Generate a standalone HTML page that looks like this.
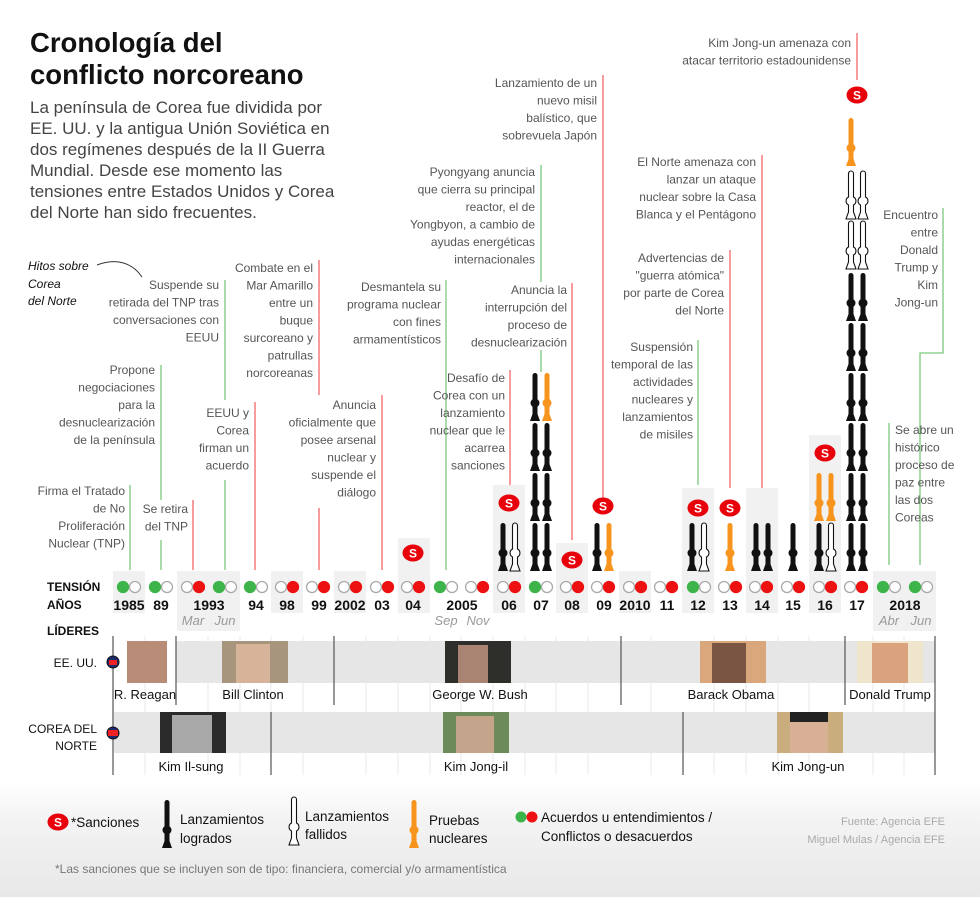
<!DOCTYPE html>
<html><head><meta charset="utf-8"><style>
html,body{margin:0;padding:0;background:#fff}
svg{display:block;font-family:"Liberation Sans",Arial,sans-serif}
.a{font-size:12px;fill:#555;text-anchor:end}
.y{font-size:14px;font-weight:bold;fill:#111;text-anchor:middle}
.m{font-size:13px;font-style:italic;fill:#999;text-anchor:middle}
.n{font-size:13px;fill:#111;text-anchor:middle}
.lg{font-size:13.5px;fill:#111}
.gl{stroke:#7cc97c;stroke-width:1.3;fill:none}
.rl{stroke:#f06767;stroke-width:1.3;fill:none}
</style></head><body>
<svg width="980" height="897" viewBox="0 0 980 897" xmlns="http://www.w3.org/2000/svg">
<defs>
<linearGradient id="bg" x1="0" y1="0" x2="0" y2="1"><stop offset="0" stop-color="#fff"/><stop offset="0.35" stop-color="#f3f3f3"/><stop offset="1" stop-color="#e8e8e8"/></linearGradient>
<g id="mb"><rect x="-2.5" y="0" width="5" height="44" rx="2.5"/><circle cx="0" cy="30" r="4.5"/><path d="M-5,48 L5,48 L2.5,41 L-2.5,41 Z"/></g>
<g id="mk" fill="#111"><use href="#mb"/></g>
<g id="mo" fill="#f7941d"><use href="#mb"/></g>
<g id="mw"><path d="M-2.5,26 L-2.5,2.5 A2.5,2.5 0 0 1 2.5,2.5 L2.5,26 A4.5,4.5 0 0 1 2.5,34 L2.5,41 L5,48 L-5,48 L-2.5,41 L-2.5,34 A4.5,4.5 0 0 1 -2.5,26 Z" fill="#fff" stroke="#111" stroke-width="1.1"/></g>
<g id="ss"><ellipse cx="0" cy="0" rx="10.5" ry="8.5" fill="#e8000b"/><text x="0" y="4.5" text-anchor="middle" font-size="12" font-weight="bold" fill="#fff">S</text></g>
</defs>
<rect x="0" y="780" width="980" height="117" fill="url(#bg)"/>

<text x="30" y="52" font-size="27.5" font-weight="bold" fill="#111">Cronología del</text>
<text x="30" y="84" font-size="27.5" font-weight="bold" fill="#111">conflicto norcoreano</text>
<g font-size="17" fill="#444">
<text x="30" y="113">La península de Corea fue dividida por</text>
<text x="30" y="134">EE. UU. y la antigua Unión Soviética en</text>
<text x="30" y="155">dos regímenes después de la II Guerra</text>
<text x="30" y="176">Mundial. Desde ese momento las</text>
<text x="30" y="197">tensiones entre Estados Unidos y Corea</text>
<text x="30" y="218">del Norte han sido frecuentes.</text>
</g>
<g font-size="12" font-style="italic" fill="#111">
<text x="28" y="270">Hitos sobre</text><text x="28" y="288">Corea</text><text x="28" y="305">del Norte</text>
</g>
<path d="M97,265 C115,258 132,262 142,277" stroke="#333" fill="none" stroke-width="1"/>

<g fill="#f1f1f1">
<rect x="113" y="571" width="32" height="42"/>
<rect x="177" y="571" width="63" height="60"/>
<rect x="271" y="571" width="32" height="42"/>
<rect x="334" y="571" width="32" height="42"/>
<rect x="398" y="538" width="32" height="75"/>
<rect x="493" y="485" width="32" height="128"/>
<rect x="556" y="543" width="32" height="70"/>
<rect x="619" y="571" width="32" height="42"/>
<rect x="682" y="488" width="32" height="125"/>
<rect x="746" y="488" width="32" height="125"/>
<rect x="809" y="435" width="32" height="178"/>
<rect x="873" y="571" width="63" height="60"/>
</g>

<path class="gl" d="M130,485V570"/>
<path class="rl" d="M193,500V570"/>
<path class="gl" d="M161,365V500M161,540V570"/>
<path class="gl" d="M225,280V400M225,480V570"/>
<path class="rl" d="M255,402V570"/>
<path class="rl" d="M319,260V395M319,508V570"/>
<path class="rl" d="M382,395V570"/>
<path class="gl" d="M446,280V570"/>
<path class="rl" d="M510,370V485"/>
<path class="gl" d="M541,165V282M541,350V372"/>
<path class="rl" d="M572,283V540"/>
<path class="rl" d="M603,75V500"/>
<path class="gl" d="M698,340V485"/>
<path class="rl" d="M730,250V488"/>
<path class="rl" d="M762,155V488"/>
<path class="rl" d="M857,33V80"/>
<path class="gl" d="M943,208V353H920V565"/>
<path class="gl" d="M889,423V565"/>

<text class="a" x="125" y="495"><tspan x="125">Firma el Tratado</tspan><tspan x="125" dy="17.5">de No</tspan><tspan x="125" dy="17.5">Proliferación</tspan><tspan x="125" dy="17.5">Nuclear (TNP)</tspan></text>
<text class="a" x="188" y="513"><tspan x="188">Se retira</tspan><tspan x="188" dy="17.5">del TNP</tspan></text>
<text class="a" x="155" y="374"><tspan x="155">Propone</tspan><tspan x="155" dy="17.5">negociaciones</tspan><tspan x="155" dy="17.5">para la</tspan><tspan x="155" dy="17.5">desnuclearización</tspan><tspan x="155" dy="17.5">de la península</tspan></text>
<text class="a" x="219" y="289"><tspan x="219">Suspende su</tspan><tspan x="219" dy="17.5">retirada del TNP tras</tspan><tspan x="219" dy="17.5">conversaciones con</tspan><tspan x="219" dy="17.5">EEUU</tspan></text>
<text class="a" x="249" y="417"><tspan x="249">EEUU y</tspan><tspan x="249" dy="17.5">Corea</tspan><tspan x="249" dy="17.5">firman un</tspan><tspan x="249" dy="17.5">acuerdo</tspan></text>
<text class="a" x="313" y="272"><tspan x="313">Combate en el</tspan><tspan x="313" dy="17.5">Mar Amarillo</tspan><tspan x="313" dy="17.5">entre un</tspan><tspan x="313" dy="17.5">buque</tspan><tspan x="313" dy="17.5">surcoreano y</tspan><tspan x="313" dy="17.5">patrullas</tspan><tspan x="313" dy="17.5">norcoreanas</tspan></text>
<text class="a" x="376" y="409"><tspan x="376">Anuncia</tspan><tspan x="376" dy="17.5">oficialmente que</tspan><tspan x="376" dy="17.5">posee arsenal</tspan><tspan x="376" dy="17.5">nuclear y</tspan><tspan x="376" dy="17.5">suspende el</tspan><tspan x="376" dy="17.5">diálogo</tspan></text>
<text class="a" x="441" y="291"><tspan x="441">Desmantela su</tspan><tspan x="441" dy="17.5">programa nuclear</tspan><tspan x="441" dy="17.5">con fines</tspan><tspan x="441" dy="17.5">armamentísticos</tspan></text>
<text class="a" x="505" y="382"><tspan x="505">Desafío de</tspan><tspan x="505" dy="17.5">Corea con un</tspan><tspan x="505" dy="17.5">lanzamiento</tspan><tspan x="505" dy="17.5">nuclear que le</tspan><tspan x="505" dy="17.5">acarrea</tspan><tspan x="505" dy="17.5">sanciones</tspan></text>
<text class="a" x="535" y="176"><tspan x="535">Pyongyang anuncia</tspan><tspan x="535" dy="17.5">que cierra su principal</tspan><tspan x="535" dy="17.5">reactor, el de</tspan><tspan x="535" dy="17.5">Yongbyon, a cambio de</tspan><tspan x="535" dy="17.5">ayudas energéticas</tspan><tspan x="535" dy="17.5">internacionales</tspan></text>
<text class="a" x="567" y="294"><tspan x="567">Anuncia la</tspan><tspan x="567" dy="17.5">interrupción del</tspan><tspan x="567" dy="17.5">proceso de</tspan><tspan x="567" dy="17.5">desnuclearización</tspan></text>
<text class="a" x="597" y="87"><tspan x="597">Lanzamiento de un</tspan><tspan x="597" dy="17.5">nuevo misil</tspan><tspan x="597" dy="17.5">balístico, que</tspan><tspan x="597" dy="17.5">sobrevuela Japón</tspan></text>
<text class="a" x="693" y="351"><tspan x="693">Suspensión</tspan><tspan x="693" dy="17.5">temporal de las</tspan><tspan x="693" dy="17.5">actividades</tspan><tspan x="693" dy="17.5">nucleares y</tspan><tspan x="693" dy="17.5">lanzamientos</tspan><tspan x="693" dy="17.5">de misiles</tspan></text>
<text class="a" x="724" y="262"><tspan x="724">Advertencias de</tspan><tspan x="724" dy="17.5">"guerra atómica"</tspan><tspan x="724" dy="17.5">por parte de Corea</tspan><tspan x="724" dy="17.5">del Norte</tspan></text>
<text class="a" x="756" y="166"><tspan x="756">El Norte amenaza con</tspan><tspan x="756" dy="17.5">lanzar un ataque</tspan><tspan x="756" dy="17.5">nuclear sobre la Casa</tspan><tspan x="756" dy="17.5">Blanca y el Pentágono</tspan></text>
<text class="a" x="851" y="47"><tspan x="851">Kim Jong-un amenaza con</tspan><tspan x="851" dy="17.5">atacar territorio estadounidense</tspan></text>
<text class="a" x="938" y="219"><tspan x="938">Encuentro</tspan><tspan x="938" dy="17.5">entre</tspan><tspan x="938" dy="17.5">Donald</tspan><tspan x="938" dy="17.5">Trump y</tspan><tspan x="938" dy="17.5">Kim</tspan><tspan x="938" dy="17.5">Jong-un</tspan></text>
<text class="a" x="895" y="434" style="text-anchor:start"><tspan x="895">Se abre un</tspan><tspan x="895" dy="17.5">histórico</tspan><tspan x="895" dy="17.5">proceso de</tspan><tspan x="895" dy="17.5">paz entre</tspan><tspan x="895" dy="17.5">las dos</tspan><tspan x="895" dy="17.5">Coreas</tspan></text>

<use href="#ss" x="413" y="553"/>
<use href="#ss" x="509" y="503"/>
<use href="#ss" x="572" y="560"/>
<use href="#ss" x="603" y="506"/>
<use href="#ss" x="698" y="508"/>
<use href="#ss" x="730" y="508"/>
<use href="#ss" x="825" y="453"/>
<use href="#ss" x="857" y="95"/>

<use href="#mk" x="503" y="523"/><use href="#mw" x="515" y="523"/>
<use href="#mk" x="535" y="523"/><use href="#mk" x="547" y="523"/>
<use href="#mk" x="535" y="473"/><use href="#mk" x="547" y="473"/>
<use href="#mk" x="535" y="423"/><use href="#mk" x="547" y="423"/>
<use href="#mk" x="535" y="373"/><use href="#mo" x="547" y="373"/>
<use href="#mk" x="597" y="523"/><use href="#mo" x="609" y="523"/>
<use href="#mk" x="692" y="523"/><use href="#mw" x="704" y="523"/>
<use href="#mo" x="730" y="523"/>
<use href="#mk" x="756" y="523"/><use href="#mk" x="768" y="523"/>
<use href="#mk" x="793" y="523"/>
<use href="#mk" x="819" y="523"/><use href="#mw" x="831" y="523"/>
<use href="#mo" x="819" y="473"/><use href="#mo" x="831" y="473"/>
<use href="#mk" x="851" y="523"/><use href="#mk" x="863" y="523"/>
<use href="#mk" x="851" y="473"/><use href="#mk" x="863" y="473"/>
<use href="#mk" x="851" y="423"/><use href="#mk" x="863" y="423"/>
<use href="#mk" x="851" y="373"/><use href="#mk" x="863" y="373"/>
<use href="#mk" x="851" y="323"/><use href="#mk" x="863" y="323"/>
<use href="#mk" x="851" y="273"/><use href="#mk" x="863" y="273"/>
<use href="#mw" x="851" y="221"/><use href="#mw" x="863" y="221"/>
<use href="#mw" x="851" y="171"/><use href="#mw" x="863" y="171"/>
<use href="#mo" x="851" y="118"/>

<g stroke="#aaa" stroke-width="1.3">
<g fill="#fff">
<circle cx="135" cy="587" r="5.5"/><circle cx="167" cy="587" r="5.5"/><circle cx="187" cy="587" r="5.5"/><circle cx="231" cy="587" r="5.5"/><circle cx="262" cy="587" r="5.5"/>
<circle cx="281" cy="587" r="5.5"/><circle cx="312" cy="587" r="5.5"/><circle cx="344" cy="587" r="5.5"/><circle cx="376" cy="587" r="5.5"/><circle cx="407" cy="587" r="5.5"/>
<circle cx="452" cy="587" r="5.5"/><circle cx="471" cy="587" r="5.5"/><circle cx="503" cy="587" r="5.5"/><circle cx="547" cy="587" r="5.5"/><circle cx="566" cy="587" r="5.5"/>
<circle cx="597" cy="587" r="5.5"/><circle cx="629" cy="587" r="5.5"/><circle cx="660" cy="587" r="5.5"/><circle cx="705" cy="587" r="5.5"/><circle cx="724" cy="587" r="5.5"/>
<circle cx="755" cy="587" r="5.5"/><circle cx="787" cy="587" r="5.5"/><circle cx="819" cy="587" r="5.5"/><circle cx="850" cy="587" r="5.5"/><circle cx="895" cy="587" r="5.5"/><circle cx="927" cy="587" r="5.5"/>
</g>
<g fill="#3db449" stroke="#3db449">
<circle cx="123" cy="587" r="5.5"/><circle cx="155" cy="587" r="5.5"/><circle cx="219" cy="587" r="5.5"/><circle cx="250" cy="587" r="5.5"/><circle cx="440" cy="587" r="5.5"/><circle cx="535" cy="587" r="5.5"/><circle cx="693" cy="587" r="5.5"/><circle cx="883" cy="587" r="5.5"/><circle cx="915" cy="587" r="5.5"/>
</g>
<g fill="#ee1111" stroke="#ee1111">
<circle cx="199" cy="587" r="5.5"/><circle cx="293" cy="587" r="5.5"/><circle cx="324" cy="587" r="5.5"/><circle cx="356" cy="587" r="5.5"/><circle cx="388" cy="587" r="5.5"/><circle cx="419" cy="587" r="5.5"/>
<circle cx="483" cy="587" r="5.5"/><circle cx="515" cy="587" r="5.5"/><circle cx="578" cy="587" r="5.5"/><circle cx="609" cy="587" r="5.5"/><circle cx="641" cy="587" r="5.5"/><circle cx="672" cy="587" r="5.5"/>
<circle cx="736" cy="587" r="5.5"/><circle cx="767" cy="587" r="5.5"/><circle cx="799" cy="587" r="5.5"/><circle cx="831" cy="587" r="5.5"/><circle cx="862" cy="587" r="5.5"/>
</g>
</g>

<g font-size="12" font-weight="bold" fill="#111">
<text x="47" y="591">TENSIÓN</text><text x="47" y="609">AÑOS</text><text x="47" y="635">LÍDERES</text>
</g>
<text class="y" x="129" y="610">1985</text><text class="y" x="161" y="610">89</text><text class="y" x="209" y="610">1993</text>
<text class="y" x="256" y="610">94</text><text class="y" x="287" y="610">98</text><text class="y" x="319" y="610">99</text>
<text class="y" x="350" y="610">2002</text><text class="y" x="382" y="610">03</text><text class="y" x="413" y="610">04</text>
<text class="y" x="462" y="610">2005</text><text class="y" x="509" y="610">06</text><text class="y" x="541" y="610">07</text>
<text class="y" x="572" y="610">08</text><text class="y" x="604" y="610">09</text><text class="y" x="635" y="610">2010</text>
<text class="y" x="667" y="610">11</text><text class="y" x="698" y="610">12</text><text class="y" x="730" y="610">13</text>
<text class="y" x="762" y="610">14</text><text class="y" x="793" y="610">15</text><text class="y" x="825" y="610">16</text>
<text class="y" x="857" y="610">17</text><text class="y" x="905" y="610">2018</text>
<text class="m" x="193" y="625">Mar</text><text class="m" x="225" y="625">Jun</text>
<text class="m" x="446" y="625">Sep</text><text class="m" x="478" y="625">Nov</text>
<text class="m" x="889" y="625">Abr</text><text class="m" x="921" y="625">Jun</text>

<g stroke="#eaeaea" stroke-width="1">
<path d="M145,636V775M208,636V775M240,636V775M271,636V775M303,636V775M366,636V775M398,636V775M430,636V775M461,636V775M493,636V775M525,636V775M556,636V775M588,636V775M651,636V775M714,636V775M746,636V775M778,636V775M809,636V775M873,636V775M904,636V775"/>
</g>
<rect x="176" y="641" width="759" height="42" fill="#e6e6e6"/>
<rect x="114" y="712" width="821" height="41" fill="#e6e6e6"/>
<g stroke="#555" stroke-width="1.2">
<path d="M113,636V775M176,636V705M334,636V705M621,636V705M845,636V705M935,636V775M271,712V775M683,712V775"/>
</g>
<rect x="127" y="641" width="40" height="42" fill="#b98c78"/>
<rect x="222" y="641" width="66" height="42" fill="#a8957e"/><rect x="236" y="644" width="34" height="39" fill="#d7b39a"/>
<rect x="445" y="641" width="66" height="42" fill="#2e2e2a"/><rect x="458" y="645" width="30" height="38" fill="#a98472"/>
<rect x="700" y="641" width="66" height="42" fill="#d9a77b"/><rect x="712" y="643" width="34" height="40" fill="#7a5543"/>
<rect x="857" y="641" width="66" height="42" fill="#efe4cc"/><rect x="872" y="643" width="36" height="40" fill="#dba27e"/>
<rect x="160" y="712" width="66" height="41" fill="#2a2a2a"/><rect x="172" y="715" width="40" height="38" fill="#a8a8a8"/>
<rect x="443" y="712" width="66" height="41" fill="#6d8a5a"/><rect x="456" y="716" width="38" height="37" fill="#c4a48a"/>
<rect x="777" y="712" width="66" height="41" fill="#c9ad7d"/><rect x="790" y="715" width="38" height="38" fill="#d8b095"/><rect x="790" y="712" width="38" height="10" fill="#222"/>
<text class="n" x="145" y="699">R. Reagan</text><text class="n" x="253" y="699">Bill Clinton</text>
<text class="n" x="480" y="699">George W. Bush</text><text class="n" x="731" y="699">Barack Obama</text><text class="n" x="890" y="699">Donald Trump</text>
<text class="n" x="191" y="771">Kim Il-sung</text><text class="n" x="476" y="771">Kim Jong-il</text><text class="n" x="808" y="771">Kim Jong-un</text>
<g font-size="12" fill="#111" text-anchor="end">
<text x="97" y="667">EE. UU.</text><text x="97" y="733">COREA DEL</text><text x="97" y="750">NORTE</text>
</g>
<circle cx="113" cy="662" r="6" fill="#1a2a6c" stroke="#111"/><rect x="109" y="660" width="8" height="5" fill="#e22"/>
<circle cx="113" cy="733" r="6" fill="#1a2a6c" stroke="#111"/><rect x="108" y="730" width="10" height="6" fill="#e22"/>

<use href="#ss" x="58" y="822"/>
<text class="lg" x="71" y="827">*Sanciones</text>
<use href="#mk" x="167" y="800"/>
<text class="lg" x="180" y="824">Lanzamientos</text><text class="lg" x="180" y="843">logrados</text>
<use href="#mw" x="294" y="797"/>
<text class="lg" x="305" y="821">Lanzamientos</text><text class="lg" x="305" y="839">fallidos</text>
<use href="#mo" x="414" y="800"/>
<text class="lg" x="429" y="825">Pruebas</text><text class="lg" x="429" y="843">nucleares</text>
<circle cx="521" cy="817" r="5.5" fill="#3db449"/><circle cx="532" cy="817" r="5.5" fill="#ee1111"/>
<text class="lg" x="541" y="822">Acuerdos u entendimientos /</text><text class="lg" x="541" y="841">Conflictos o desacuerdos</text>
<g font-size="11" fill="#aaa" text-anchor="end"><text x="945" y="825">Fuente: Agencia EFE</text><text x="945" y="843">Miguel Mulas / Agencia EFE</text></g>
<text x="55" y="873" font-size="12" fill="#777">*Las sanciones que se incluyen son de tipo: financiera, comercial y/o armamentística</text>
</svg>
</body></html>
